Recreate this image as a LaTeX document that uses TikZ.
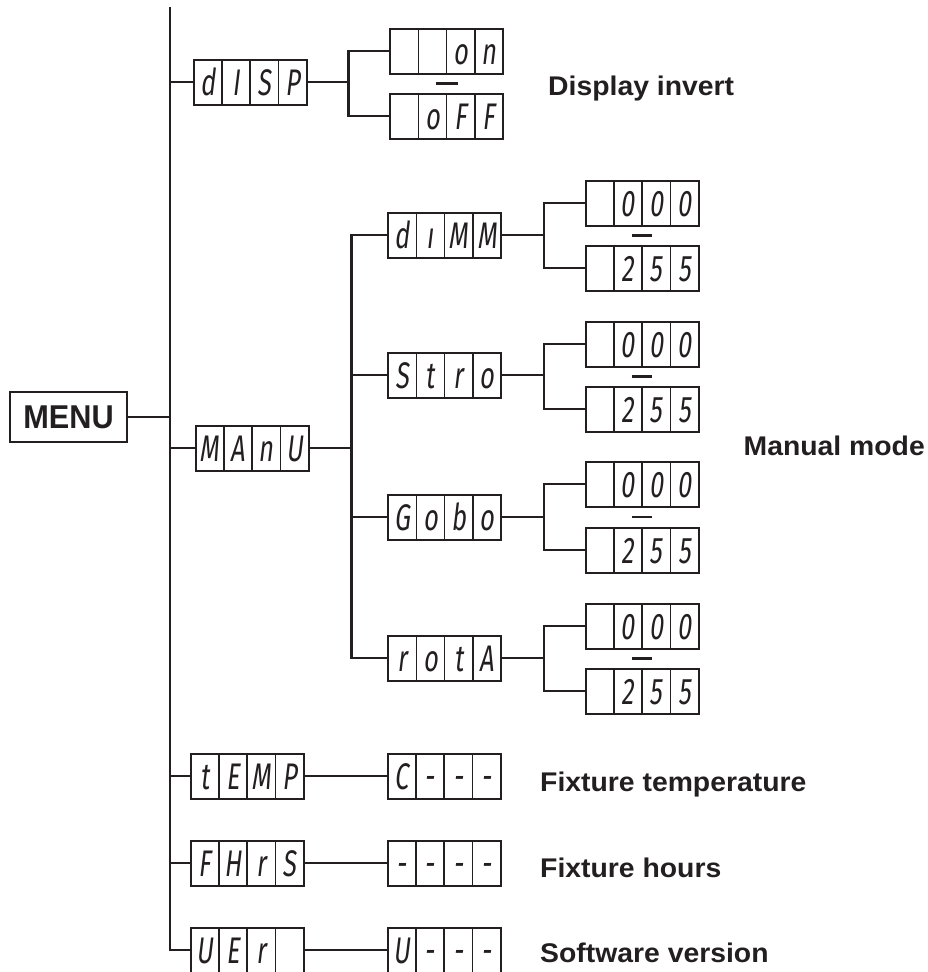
\documentclass[tikz,border=0pt]{standalone}
\usepackage{fontspec}
\setmainfont{Liberation Sans}
\newfontfamily\labfont{Liberation Sans}[FakeStretch=1.05]
\newfontfamily\menufont{Liberation Sans}[FakeStretch=0.93]
\newfontfamily\segfont{Fira Sans}[FakeSlant=0.12,FakeStretch=0.68]
\usetikzlibrary{calc}
\definecolor{ink}{RGB}{35,31,32}
\tikzset{
  dbox/.style={draw=ink, line width=2pt, minimum width=113pt, minimum height=45pt, inner sep=0pt},
  cell/.style={draw=ink, line width=1.5pt},
  seg/.style={text=ink, font=\segfont\fontsize{37}{37}\selectfont, anchor=base, inner sep=0pt},
  conn/.style={draw=ink, line width=2.4pt},
  dashmark/.style={draw=ink, line width=2.4pt},
  lab/.style={text=ink, font=\labfont\bfseries\fontsize{27}{27}\selectfont, anchor=base west, inner sep=0pt},
  menubox/.style={draw=ink, text=ink, line width=2.4pt, minimum width=117pt, minimum height=50pt, inner sep=0pt, font=\menufont\bfseries\fontsize{33}{33}\selectfont}
}
% #1 name, #2 x centre, #3 y centre, #4-#7 characters
\newcommand\dbx[7]{%
  \node[dbox] (#1) at (#2,#3) {};
  \draw[cell] (#2-28.25,#3-22.5) -- (#2-28.25,#3+22.5);
  \draw[cell] (#2,#3-22.5) -- (#2,#3+22.5);
  \draw[cell] (#2+28.25,#3-22.5) -- (#2+28.25,#3+22.5);
  \node[seg] (#1-a) at (#2-42.375,#3+13) {#4};
  \node[seg] (#1-b) at (#2-14.125,#3+13) {#5};
  \node[seg] (#1-c) at (#2+14.125,#3+13) {#6};
  \node[seg] (#1-d) at (#2+42.375,#3+13) {#7};
}
\begin{document}
\begin{tikzpicture}[x=1pt,y=-1pt]
\useasboundingbox (0,0) rectangle (927,972);

\node[menubox] (menu) at (68.5,417) {MENU};
\coordinate (top) at (170,7);

% first level
\dbx{disp}{250}{82}{d}{I}{S}{P}
\dbx{manu}{252}{448}{M}{A}{n}{U}
\dbx{temp}{247}{776}{t}{E}{M}{P}
\dbx{fhrs}{247}{863}{F}{H}{r}{S}
\dbx{ver}{247}{950}{U}{E}{r}{}

% display invert
\dbx{on}{446.5}{51}{}{}{o}{n}
\dbx{off}{446.5}{116}{}{o}{F}{F}

% manual mode
\dbx{dimm}{444.5}{235}{d}{ı}{M}{M}
\dbx{stro}{444.5}{375}{S}{t}{r}{o}
\dbx{gobo}{444.5}{517}{G}{o}{b}{o}
\dbx{rota}{444.5}{658}{r}{o}{t}{A}

\dbx{dimmlo}{642}{203}{}{0}{0}{0}
\dbx{dimmhi}{642}{268}{}{2}{5}{5}
\dbx{strolo}{642}{344}{}{0}{0}{0}
\dbx{strohi}{642}{409}{}{2}{5}{5}
\dbx{gobolo}{642}{484}{}{0}{0}{0}
\dbx{gobohi}{642}{550}{}{2}{5}{5}
\dbx{rotalo}{642}{626}{}{0}{0}{0}
\dbx{rotahi}{642}{691}{}{2}{5}{5}

% values
\dbx{tempv}{444}{776}{C}{-}{-}{-}
\dbx{fhrsv}{444}{863}{-}{-}{-}{-}
\dbx{verv}{444}{950}{U}{-}{-}{-}

% main trunk
\draw[conn] (top) |- (ver.west);
\draw[conn] (menu.east) -- (menu.east -| top);
\draw[conn] (disp.west -| top) -- (disp.west);
\draw[conn] (manu.west -| top) -- (manu.west);
\draw[conn] (temp.west -| top) -- (temp.west);
\draw[conn] (fhrs.west -| top) -- (fhrs.west);

% display branch
\coordinate (dj) at ($(disp.east)+(41,0)$);
\draw[conn] (disp.east) -- (dj);
\draw[conn] (on.west) -| (dj) |- (off.west);
\draw[dashmark] ($(on.south)!.5!(off.north)+(-11,0)$) -- ++(22,0);

% manual branch
\coordinate (mj) at ($(manu.east)+(42,0)$);
\draw[conn] (manu.east) -- (mj);
\draw[conn] (dimm.west) -| (mj) |- (rota.west);
\draw[conn] (stro.west -| mj) -- (stro.west);
\draw[conn] (gobo.west -| mj) -- (gobo.west);

\foreach \g in {dimm,stro,gobo,rota}{
  \coordinate (\g j) at ($(\g.east)+(42,0)$);
  \draw[conn] (\g.east) -- (\g j);
  \draw[conn] (\g lo.west) -| (\g j) |- (\g hi.west);
  \draw[dashmark] ($(\g lo.south)!.5!(\g hi.north)+(-10,0)$) -- ++(20,0);
}

% value connectors
\draw[conn] (temp.east) -- (tempv.west);
\draw[conn] (fhrs.east) -- (fhrsv.west);
\draw[conn] (ver.east) -- (verv.west);

% labels
\node[lab] (l1) at (548,95) {Display invert};
\node[lab, anchor=base east] (l2) at (925,455) {Manual mode};
\node[lab] (l3) at (540,791) {Fixture temperature};
\node[lab] (l4) at (540,877) {Fixture hours};
\node[lab] (l5) at (540,962) {Software version};
\end{tikzpicture}
\end{document}
